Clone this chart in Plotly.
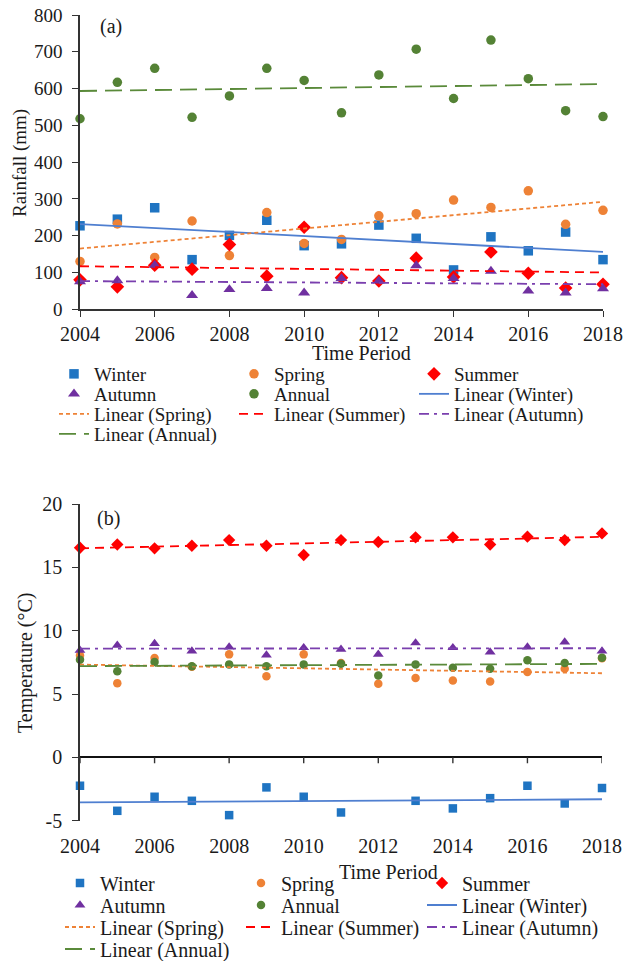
import numpy as np
import plotly.graph_objects as go

# ---------------- data ----------------
years = list(range(2004, 2019))
tick_years = list(range(2004, 2019, 2))
temp_ticks = [-5, 0, 5, 10, 15, 20]
temp_tick_labels = ["-5", "0", "5", "10", "15", "20"]

rain_winter = [227, 245, 276, 135, 201, 242, 173, 178, 229, 193, 107, 197, 159, 210, 135]
rain_spring = [130, 232, 141, 240, 146, 263, 179, 190, 254, 260, 297, 277, 322, 231, 269]
rain_summer = [80, 61, 120, 109, 176, 90, 223, 86, 77, 139, 88, 156, 98, 58, 68]
rain_autumn = [75, 78, 120, 38, 54, 57, 45, 84, 77, 119, 84, 104, 50, 45, 56]
rain_annual = [518, 617, 655, 522, 580, 655, 622, 534, 637, 707, 573, 732, 627, 540, 524]

temp_winter = [-2.24, -4.22, -3.11, -3.43, -4.56, -2.37, -3.11, -4.35, -5.06, -3.43, -4.03, -3.22, -2.24, -3.64, -2.42]
temp_spring = [8.05, 5.86, 7.84, 7.15, 8.13, 6.41, 8.13, 7.44, 5.81, 6.26, 6.07, 5.99, 6.73, 7.0, 7.83]
temp_summer = [16.55, 16.8, 16.5, 16.7, 17.15, 16.7, 15.97, 17.15, 17.0, 17.37, 17.37, 16.8, 17.42, 17.15, 17.68]
temp_autumn = [8.45, 8.84, 8.98, 8.39, 8.71, 8.08, 8.66, 8.53, 8.13, 9.03, 8.66, 8.31, 8.71, 9.1, 8.39]
temp_annual = [7.71, 6.79, 7.52, 7.2, 7.34, 7.2, 7.34, 7.39, 6.47, 7.34, 7.08, 7.0, 7.66, 7.44, 7.87]

season_names = ["Winter", "Spring", "Summer", "Autumn", "Annual"]

# ---------------- styles ----------------
FONT = "Liberation Serif, Times New Roman, serif"
TXT = "#1a1a1a"
AX = "#333333"
colors = {"Winter": "#1f74c2", "Spring": "#ee8236", "Summer": "#ff0000",
          "Autumn": "#7030a0", "Annual": "#548235"}
line_colors = {"Winter": "#4f7fd0", "Spring": "#ee8236", "Summer": "#ff0000",
               "Autumn": "#7a3fae", "Annual": "#5a8a3a"}
symbols = {"Winter": "square", "Spring": "circle", "Summer": "diamond",
           "Autumn": "triangle-up", "Annual": "circle"}
dashes = {"Winter": "solid", "Spring": "4px,3px", "Summer": "9px,6px",
          "Autumn": "10px,5px,3px,5px", "Annual": "17px,8px"}

W, H = 624, 961
ML, MR, MT, MB = 30, 10, 10, 0
PW, PH = W - ML - MR, H - MT - MB


def fx(px):
    return (px - ML) / PW


def fy(py):
    return 1 - (py - MT) / PH


fig = go.Figure()

panels = [
    dict(data=[rain_winter, rain_spring, rain_summer, rain_autumn, rain_annual],
         xa="x", ya="y", legends=["legend", "legend2", "legend3", "legend4"],
         yr=(0, 800), msize=9.5),
    dict(data=[temp_winter, temp_spring, temp_summer, temp_autumn, temp_annual],
         xa="x2", ya="y2", legends=["legend5", "legend6", "legend7", "legend8"],
         yr=(-5, 20), msize=8.5),
]

for p in panels:
    lo, hi = p["yr"]
    k = 0
    # markers
    for name, vals in zip(season_names, p["data"]):
        shown = [v if lo <= v <= hi else None for v in vals]
        big = symbols[name] in ("diamond", "triangle-up")
        fig.add_trace(go.Scatter(
            x=years, y=shown, mode="markers", name=name,
            marker=dict(symbol=symbols[name], color=colors[name], size=p["msize"] + (1 if big else 0)),
            xaxis=p["xa"], yaxis=p["ya"], legend=p["legends"][k // 3], cliponaxis=False))
        k += 1
    # linear trend lines (least squares over all values)
    for name, vals in zip(season_names, p["data"]):
        slope, icpt = np.polyfit(years, vals, 1)
        xs = [years[0], years[-1]]
        ys = [slope * x + icpt for x in xs]
        fig.add_trace(go.Scatter(
            x=xs, y=ys, mode="lines", name=f"Linear ({name})",
            line=dict(color=line_colors[name], width=1.8, dash=dashes[name]),
            xaxis=p["xa"], yaxis=p["ya"], legend=p["legends"][k // 3], cliponaxis=False))
        k += 1

axis_common = dict(showgrid=False, automargin=False,
                   linecolor=AX, linewidth=1.6, tickcolor=AX, tickwidth=1.4)

layout = dict(
    width=W, height=H,
    margin=dict(l=ML, r=MR, t=MT, b=MB, autoexpand=False),
    paper_bgcolor="white", plot_bgcolor="white",
    font=dict(family=FONT, color=TXT),
    xaxis=dict(domain=[fx(80), fx(603)], range=[2004, 2018], anchor="y",
               tickvals=tick_years, showline=True, ticks="outside", ticklen=6,
               ticklabelstandoff=0, zeroline=False,
               tickfont=dict(family=FONT, size=20, color=TXT), **axis_common),
    yaxis=dict(domain=[fy(309.3), fy(15)], range=[0, 800], anchor="x", dtick=100,
               showline=True, ticks="outside", ticklen=6, zeroline=False,
               ticklabelstandoff=6, tickfont=dict(family=FONT, size=19, color=TXT),
               **axis_common),
    xaxis2=dict(domain=[fx(80), fx(602)], range=[2004, 2018], anchor="y2",
                tickvals=tick_years, showline=False, ticks="", ticklabelstandoff=11,
                zeroline=False, tickfont=dict(family=FONT, size=20, color=TXT),
                **axis_common),
    yaxis2=dict(domain=[fy(820.7), fy(504)], range=[-5, 20], anchor="x2",
                tickvals=temp_ticks, ticktext=temp_tick_labels,
                showline=True, ticks="outside", ticklen=6, zeroline=True,
                zerolinecolor="#111111", zerolinewidth=1.6, ticklabelstandoff=6,
                tickfont=dict(family=FONT, size=20, color=TXT), **axis_common),
)

rows_a = [374, 394, 414, 434]
rows_b = [883, 905, 927, 949]
for i, yc in enumerate(rows_a):
    key = "legend" if i == 0 else f"legend{i + 1}"
    layout[key] = dict(orientation="h", x=fx(54), xanchor="left", y=fy(yc), yanchor="middle",
                       entrywidth=135, traceorder="normal", bgcolor="rgba(0,0,0,0)",
                       font=dict(family=FONT, size=19, color=TXT), itemclick=False)
for i, yc in enumerate(rows_b):
    key = f"legend{i + 5}"
    layout[key] = dict(orientation="h", x=fx(60), xanchor="left", y=fy(yc), yanchor="middle",
                       entrywidth=136, traceorder="normal", bgcolor="rgba(0,0,0,0)",
                       font=dict(family=FONT, size=20, color=TXT), itemclick=False)

fig.update_layout(**layout)

# tick marks on the zero line of panel (b)
for t in tick_years:
    fig.add_shape(type="line", xref="x2", yref="y2", x0=t, x1=t,
                  ysizemode="pixel", yanchor=0, y0=0, y1=-6,
                  line=dict(color=AX, width=1.4))


def label(text, px, py, size, angle=0):
    fig.add_annotation(text=text, x=fx(px), y=fy(py), xref="paper", yref="paper",
                       xanchor="center", yanchor="middle", textangle=angle,
                       showarrow=False, font=dict(family=FONT, size=size, color=TXT))


label("(a)", 111, 26, 20)
label("(b)", 108, 518, 20)
label("Time Period", 361, 353, 20)
label("Time Period", 388, 872, 20)
label("Rainfall (mm)", 20, 163, 19, -90)
label("Temperature (°C)", 25, 663, 20, -90)

fig.write_html("out.html", config={"displayModeBar": False},
               post_script="document.body.style.margin='0';document.body.style.overflow='hidden';")
